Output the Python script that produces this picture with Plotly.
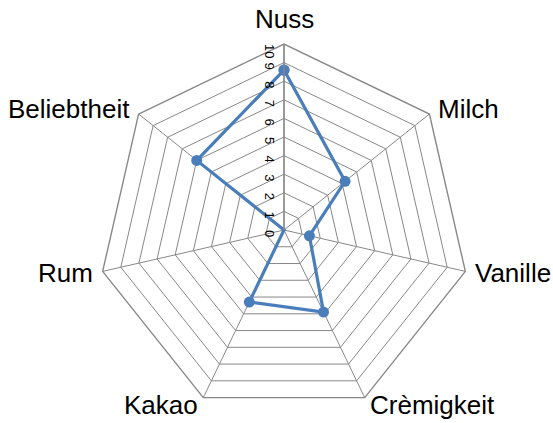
import math
import plotly.graph_objects as go

categories = ["Nuss", "Milch", "Vanille", "Crèmigkeit", "Kakao", "Rum", "Beliebtheit"]
values = [8.6, 4.2, 1.4, 4.9, 4.3, 0, 6.0]
radial_ticks = list(range(0, 11))

W, H = 553, 423
cx, cy, R = 284, 230, 186
LABEL_GAP = 8

fig = go.Figure()
fig.add_trace(go.Scatterpolar(
    r=values + [values[0]],
    theta=categories + [categories[0]],
    mode="lines+markers",
    line=dict(color="#4A7EBB", width=3.2),
    marker=dict(color="#4A7EBB", size=11),
    showlegend=False,
))

# category labels placed just outside each spoke end
annotations = []
n = len(categories)
for i, cat in enumerate(categories):
    a = math.radians(90 - i * 360 / n)
    dx, dy = math.cos(a), -math.sin(a)  # screen direction
    px = cx + (R + LABEL_GAP) * dx
    py = cy + (R + LABEL_GAP) * dy
    if abs(dx) < 0.1:
        xa = "center"
    else:
        xa = "left" if dx > 0 else "right"
    ya = "bottom" if dy < -0.95 else "middle"
    annotations.append(dict(
        x=px / W, y=1 - py / H, xref="paper", yref="paper",
        text=cat, showarrow=False, xanchor=xa, yanchor=ya,
        font=dict(size=26, color="black"),
    ))

grid = "#888888"
fig.update_layout(
    width=W, height=H,
    margin=dict(l=0, r=0, t=0, b=0),
    paper_bgcolor="white",
    font=dict(family="Liberation Sans, Arial, sans-serif", color="black"),
    annotations=annotations,
    polar=dict(
        domain=dict(x=[(cx - R) / W, (cx + R) / W], y=[(H - cy - R) / H, (H - cy + R) / H]),
        bgcolor="white",
        gridshape="linear",
        angularaxis=dict(
            direction="clockwise", rotation=90,
            showticklabels=False,
            linecolor=grid, linewidth=1.4,
            gridcolor=grid, gridwidth=1.4,
            ticks="", showline=True,
        ),
        radialaxis=dict(
            range=[0, 10], angle=90, side="counterclockwise",
            tickvals=radial_ticks, ticktext=[str(v) for v in radial_ticks],
            tickangle=180,
            tickfont=dict(size=13, color="black"),
            gridcolor=grid, gridwidth=1.4,
            linecolor=grid, linewidth=1.4, showline=True,
            ticks="",
        ),
    ),
)
fig.write_html("out.html", config={"displayModeBar": False},
               post_script="document.body.style.margin='0px';")
